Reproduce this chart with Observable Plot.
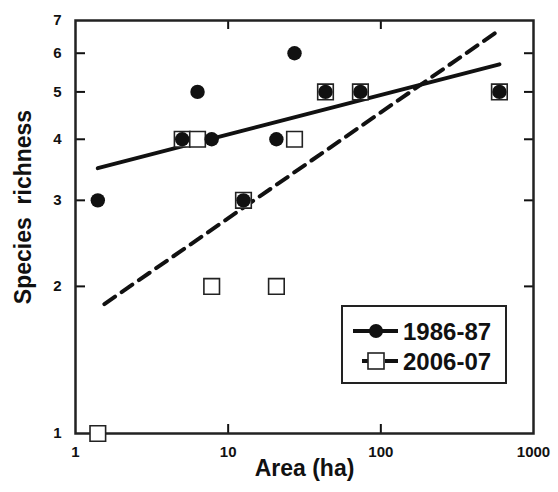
<!DOCTYPE html>
<html>
<head>
<meta charset="utf-8">
<script src="https://cdn.jsdelivr.net/npm/d3@7"></script>
<script src="https://cdn.jsdelivr.net/npm/@observablehq/plot@0.6"></script>
<style>
  html, body { margin: 0; padding: 0; background: #fff; }
  svg { display: block; }
</style>
</head>
<body>
<div id="chart"></div>
<script>
// Data
const area = [1.4, 5, 6.3, 7.8, 12.6, 20.7, 27.2, 43.4, 73.5, 598];
const rich1986 = [3, 4, 5, 4, 3, 4, 6, 5, 5, 5];
const rich2006 = [1, 4, 4, 2, 3, 2, 4, 5, 5, 5];
const seriesNames = ["1986-87", "2006-07"];
const xTicks = [1, 10, 100, 1000];
const yTicks = [1, 2, 3, 4, 5, 6, 7];
const xInnerTicks = [10, 100];
const yInnerTicks = [2, 3, 4, 5, 6];

const pts1986 = area.map((a, i) => ({x: a, y: rich1986[i]}));
const pts2006 = area.map((a, i) => ({x: a, y: rich2006[i]}));

// log-log least squares fit, drawn over the data range
function fitLine(pts) {
  const lx = pts.map(d => Math.log10(d.x)), ly = pts.map(d => Math.log10(d.y));
  const mx = d3.mean(lx), my = d3.mean(ly);
  const b = d3.sum(lx, (v, i) => (v - mx) * (ly[i] - my)) / d3.sum(lx, v => (v - mx) ** 2);
  const a = my - b * mx;
  const [x0, x1] = d3.extent(pts, d => d.x);
  return [x0, x1].map(x => ({x, y: Math.pow(10, a + b * Math.log10(x))}));
}
const fit1986 = fitLine(pts1986);
const fit2006 = fitLine(pts2006);

const W = 558, H = 492;
const mL = 75, mR = 25, mT = 20, mB = 59;
const pw = W - mL - mR, ph = H - mT - mB;
const ink = "#111";
const font = "'Liberation Sans', Arial, Helvetica, sans-serif";

const chart = Plot.plot({
  width: W, height: H,
  marginLeft: mL, marginRight: mR, marginTop: mT, marginBottom: mB,
  style: {fontFamily: font, color: ink, background: "#fff"},
  x: {type: "log", domain: [1, 1000], axis: null},
  y: {type: "log", domain: [1, 7], axis: null},
  marks: [
    Plot.axisX(xTicks, {label: null, tickSize: 0, tickPadding: 13, fontSize: 15, fontWeight: "bold", tickFormat: d => String(d)}),
    Plot.axisY(yTicks, {label: null, tickSize: 0, tickPadding: 14, fontSize: 15, fontWeight: "bold", tickFormat: d => String(d)}),
    // inward tick marks
    Plot.ruleY(yInnerTicks, {stroke: ink, strokeWidth: 2, insetRight: pw - 10}),
    Plot.ruleY(yInnerTicks, {stroke: ink, strokeWidth: 2, insetLeft: pw - 9}),
    Plot.ruleX(xInnerTicks, {stroke: ink, strokeWidth: 2, insetBottom: ph - 9}),
    Plot.ruleX(xInnerTicks, {stroke: ink, strokeWidth: 2, insetTop: ph - 9}),
    Plot.frame({stroke: "#222", strokeWidth: 2.5}),
    // fits
    Plot.line(fit1986, {x: "x", y: "y", stroke: ink, strokeWidth: 4}),
    Plot.line(fit2006, {x: "x", y: "y", stroke: ink, strokeWidth: 4, strokeDasharray: "13,8", strokeDashoffset: 13}),
    // points
    Plot.dot(pts2006, {x: "x", y: "y", symbol: "square", r: 8.8, fill: "#fff", stroke: "#222", strokeWidth: 1.6}),
    Plot.dot(pts1986, {x: "x", y: "y", symbol: "circle", r: 7.2, fill: ink, stroke: "none"}),
    // axis titles
    Plot.text(["Area (ha)"], {frameAnchor: "bottom", dy: 42, fontSize: 23, fontWeight: "bold", fill: ink}),
    Plot.text(["Species  richness"], {frameAnchor: "left", textAnchor: "middle", dx: -52, dy: -20, rotate: -90, fontSize: 23, fontWeight: "bold", fill: ink, style: "white-space: pre"})
  ]
});

document.getElementById("chart").appendChild(chart);

// Legend inside plot area (lower right)
const svg = d3.select(chart);
const lg = svg.append("g").attr("font-family", font).attr("text-anchor", "start");
lg.append("rect").attr("x", 342).attr("y", 306).attr("width", 164).attr("height", 77)
  .attr("fill", "#fff").attr("stroke", "#222").attr("stroke-width", 2);
// row 1
lg.append("line").attr("x1", 353).attr("x2", 398).attr("y1", 331).attr("y2", 331)
  .attr("stroke", ink).attr("stroke-width", 4);
lg.append("circle").attr("cx", 376).attr("cy", 331).attr("r", 7).attr("fill", ink);
lg.append("text").attr("x", 403).attr("y", 331).attr("dy", "0.36em")
  .style("font-size", "24px").style("font-weight", "bold").attr("fill", ink).text(seriesNames[0]);
// row 2
lg.append("line").attr("x1", 362).attr("x2", 398).attr("y1", 361).attr("y2", 361)
  .attr("stroke", ink).attr("stroke-width", 4).attr("stroke-dasharray", "6,17,13");
lg.append("rect").attr("x", 368).attr("y", 353).attr("width", 16).attr("height", 16)
  .attr("fill", "#fff").attr("stroke", "#222").attr("stroke-width", 1.6);
lg.append("text").attr("x", 403).attr("y", 361).attr("dy", "0.36em")
  .style("font-size", "24px").style("font-weight", "bold").attr("fill", ink).text(seriesNames[1]);
</script>
</body>
</html>
